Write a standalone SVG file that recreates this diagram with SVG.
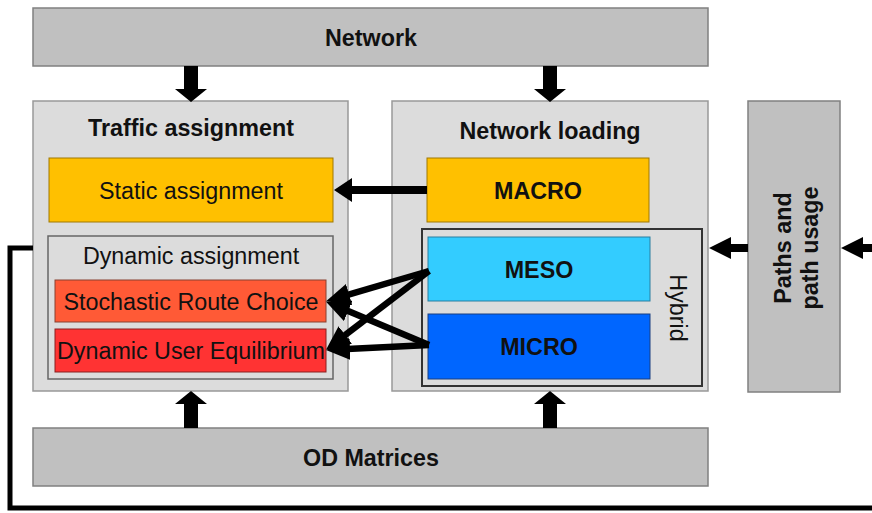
<svg xmlns="http://www.w3.org/2000/svg" width="872" height="513" viewBox="0 0 872 513">
<defs>
<style>
text{font-family:"Liberation Sans",Arial,sans-serif;font-size:23.3px;fill:#111;text-anchor:middle;dominant-baseline:central}
.b{font-weight:bold}
.grey{fill:#c0c0c0;stroke:#808080;stroke-width:1.5}
.light{fill:#dcdcdc;stroke:#999;stroke-width:1.5}
.conn{stroke:#000;fill:none}
.blk{fill:#000}
</style>
<marker id="ah" markerUnits="userSpaceOnUse" markerWidth="24" markerHeight="22" refX="13" refY="11" orient="auto">
<path d="M0,0 L24,11 L0,22 z" fill="#000"/>
</marker>
</defs>
<rect width="872" height="513" fill="#fff"/>

<g id="network"><rect class="grey" x="33" y="8" width="675" height="58"/><text class="b" x="371" y="38">Network</text></g>
<g id="traffic-assignment"><rect class="light" x="33" y="101" width="315" height="290"/><text class="b" x="191" y="128">Traffic assignment</text></g>
<g id="network-loading"><rect class="light" x="392" y="101" width="316" height="290"/><text class="b" x="550" y="131">Network loading</text></g>
<g id="paths"><rect class="grey" x="748" y="101" width="92" height="291"/><text class="b" transform="translate(783,248) rotate(-90)">Paths and</text><text class="b" transform="translate(810,248) rotate(-90)">path usage</text></g>
<g id="od-matrices"><rect class="grey" x="33" y="428" width="675" height="58"/><text class="b" x="371" y="458">OD Matrices</text></g>
<g id="static-assignment"><rect x="49" y="158" width="284" height="64" fill="#ffc000" stroke="#a07800" stroke-width="1"/><text x="191" y="191">Static assignment</text></g>
<g id="macro"><rect x="427" y="158" width="222" height="64" fill="#ffc000" stroke="#a07800" stroke-width="1"/><text class="b" x="538" y="191">MACRO</text></g>
<g id="dynamic-assignment"><rect x="48" y="236" width="285" height="143" fill="#dcdcdc" stroke="#666" stroke-width="1.5"/><text x="191" y="256">Dynamic assignment</text></g>
<g id="stochastic"><rect x="55" y="280" width="271" height="42" fill="#ff5a36" stroke="#884030" stroke-width="1"/><text x="191" y="302">Stochastic Route Choice</text></g>
<g id="due"><rect x="55" y="329" width="271" height="43" fill="#ff3333" stroke="#882020" stroke-width="1"/><text x="191" y="351">Dynamic User Equilibrium</text></g>
<g id="hybrid"><rect x="422" y="229" width="280" height="157" fill="#dcdcdc" stroke="#333" stroke-width="2"/><text transform="translate(678,308) rotate(90)">Hybrid</text></g>
<g id="meso"><rect x="428" y="237" width="222" height="64" fill="#33ccff" stroke="#2a7fa0" stroke-width="1"/><text class="b" x="539" y="270">MESO</text></g>
<g id="micro"><rect x="428" y="314" width="222" height="65" fill="#0066ff" stroke="#1a3f80" stroke-width="1"/><text class="b" x="539" y="347">MICRO</text></g>

<g id="connectors">
<polygon class="blk" points="184,66 198,66 198,89 207,89 191,102 175,89 184,89"/>
<polygon class="blk" points="543,66 557,66 557,89 566,89 550,102 534,89 543,89"/>
<polygon class="blk" points="184,428 198,428 198,404 207,404 191,391 175,404 184,404"/>
<polygon class="blk" points="543,428 557,428 557,404 566,404 550,391 534,404 543,404"/>
<polygon class="blk" points="427,186 352,186 352,178 334,190 352,202 352,194 427,194"/>
<polygon class="blk" points="748,244 731,244 731,237 709,248 731,259 731,252 748,252"/>
<polygon class="blk" points="872,244 863,244 863,237 841,248 863,259 863,252 872,252"/>
<path class="conn" stroke-width="5" d="M872,508 H10 V248 H33"/>
<line class="conn" stroke-width="6.5" x1="429" y1="271" x2="336.6" y2="298.2" marker-end="url(#ah)"/>
<line class="conn" stroke-width="6.5" x1="429" y1="271" x2="334.9" y2="342.9" marker-end="url(#ah)"/>
<line class="conn" stroke-width="6.5" x1="429" y1="345" x2="336.2" y2="305.9" marker-end="url(#ah)"/>
<line class="conn" stroke-width="6.5" x1="429" y1="345" x2="337" y2="349.5" marker-end="url(#ah)"/>
</g>
</svg>
